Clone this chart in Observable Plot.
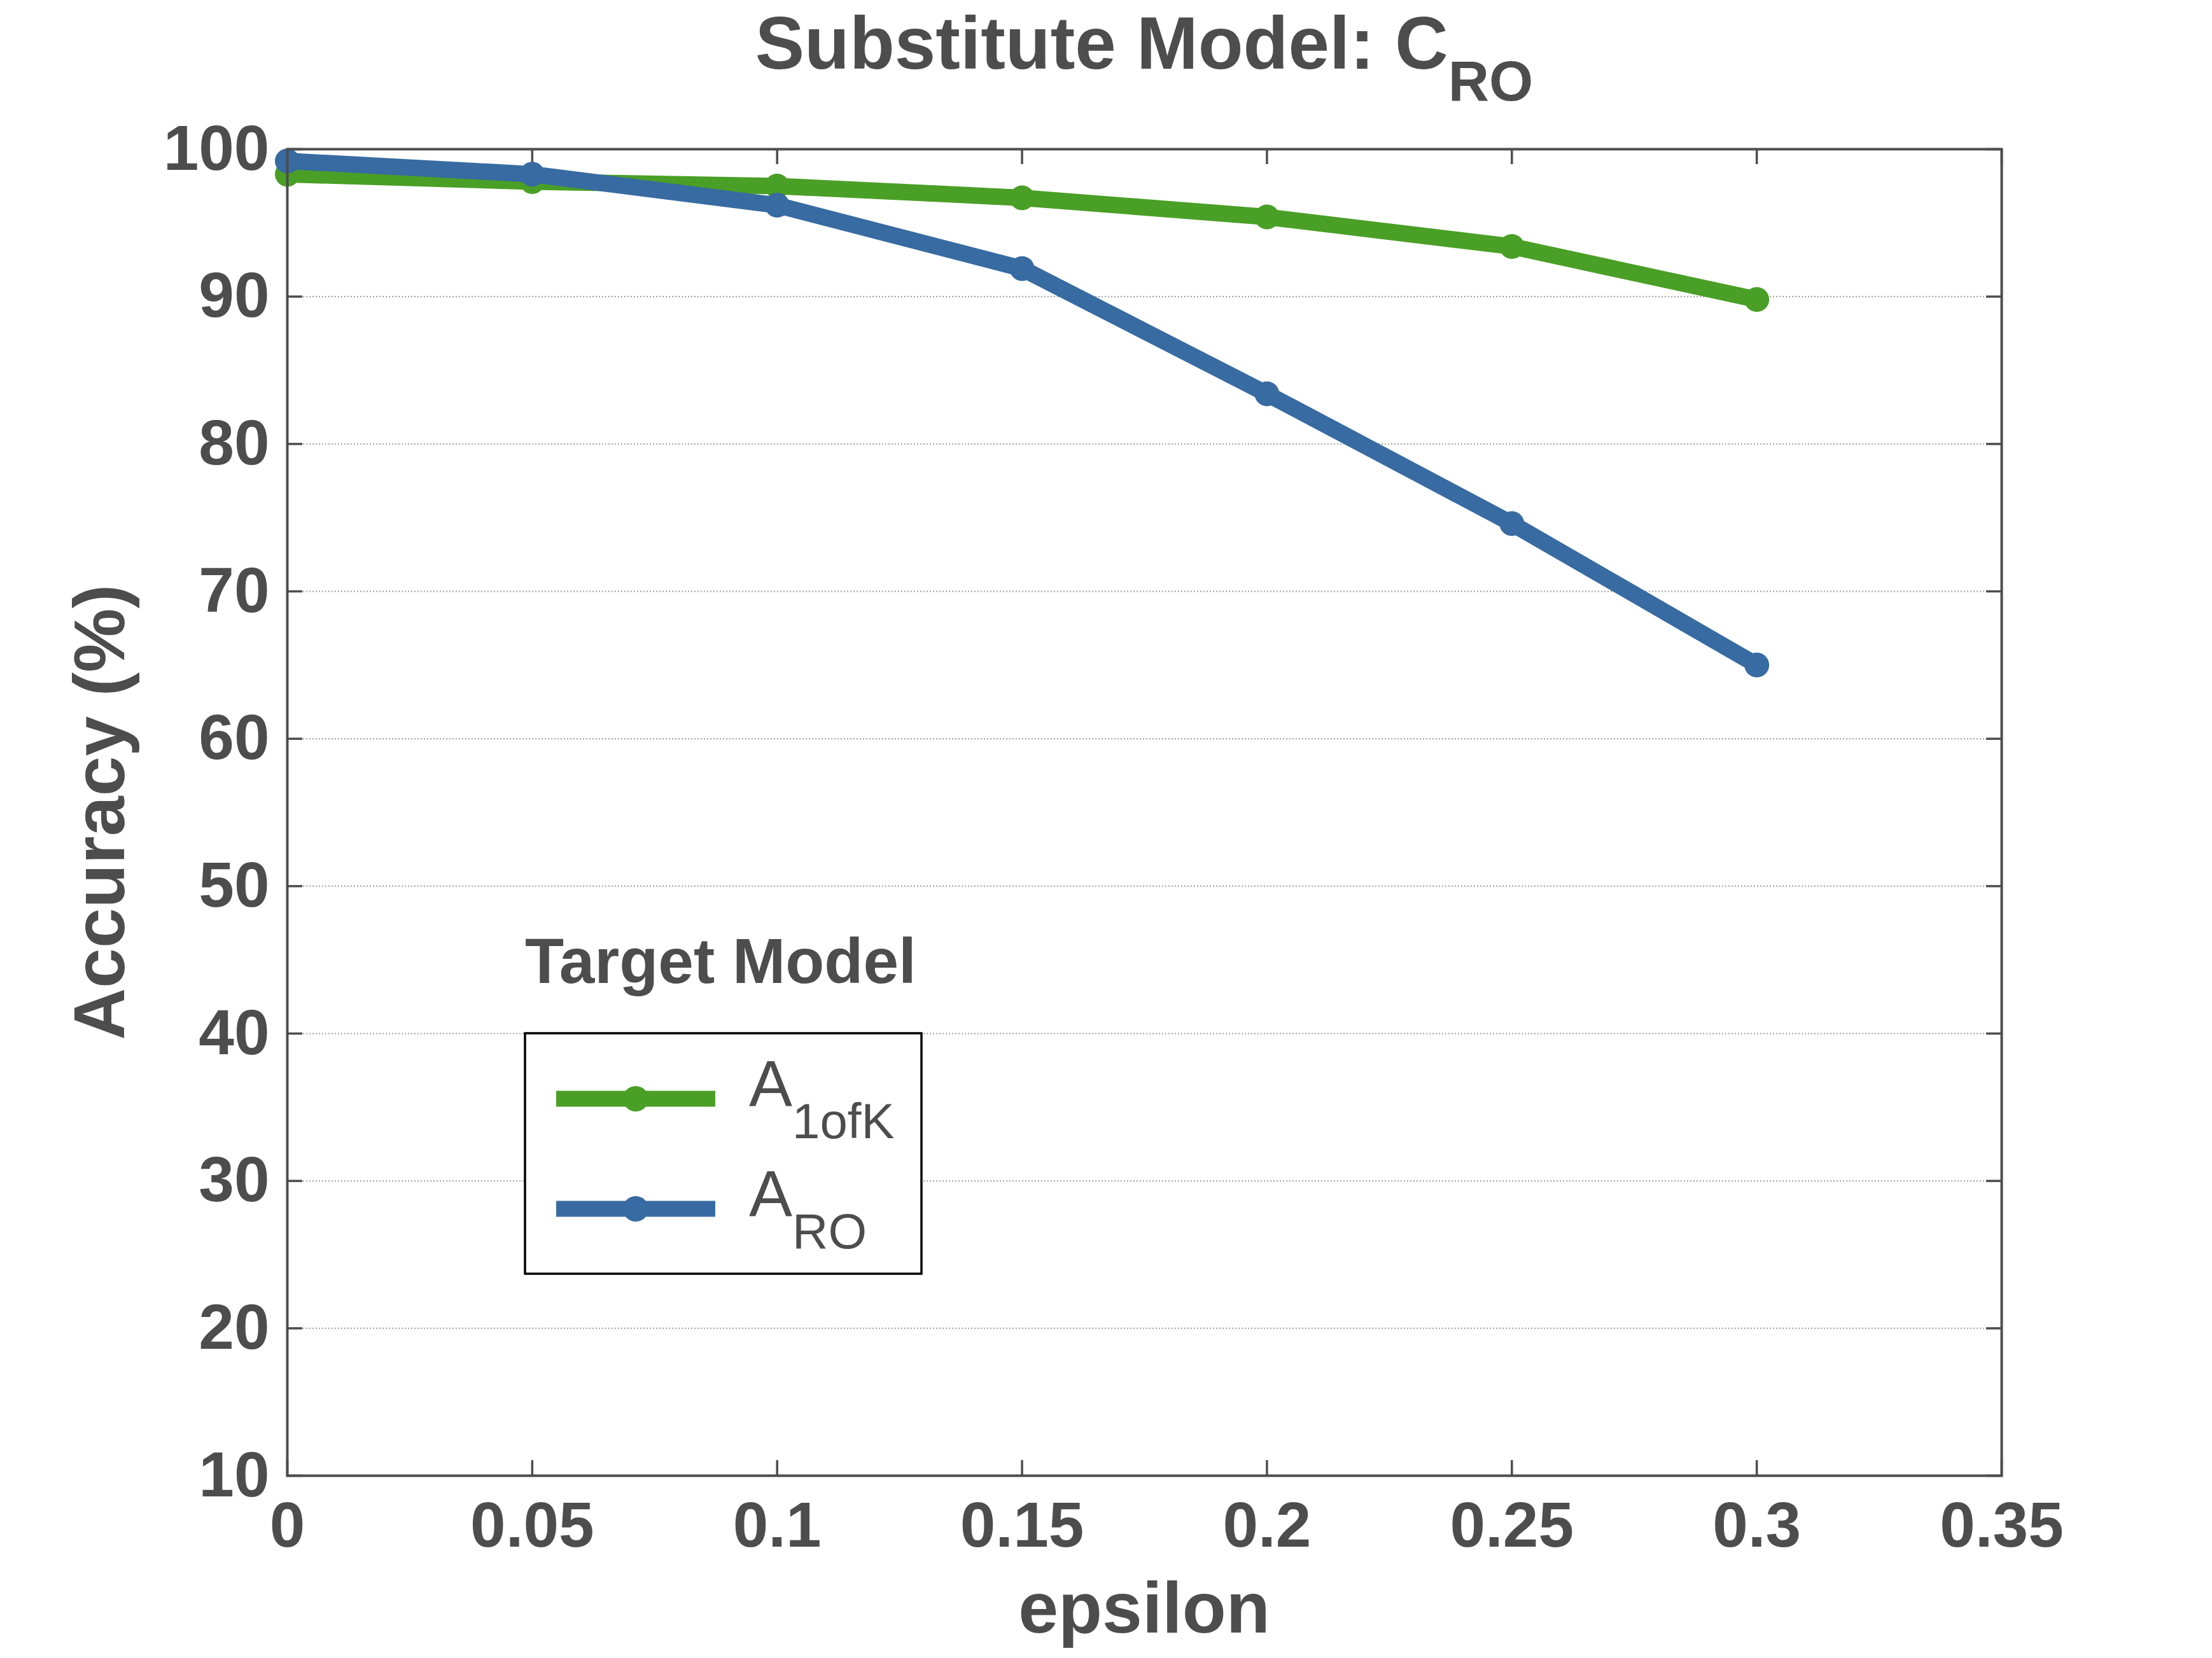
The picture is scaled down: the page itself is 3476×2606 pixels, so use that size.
<!DOCTYPE html>
<html>
<head>
<meta charset="utf-8">
<script src="https://cdn.jsdelivr.net/npm/d3@7"></script>
<script src="https://cdn.jsdelivr.net/npm/@observablehq/plot@0.6"></script>
<style>
  html, body { margin: 0; padding: 0; background: #fff; }
  #chart svg { display: block; }
</style>
</head>
<body>
<div id="chart"></div>
<script>
// Accuracy of each target model under attacks crafted on the C_RO substitute
const epsilon = [0, 0.05, 0.1, 0.15, 0.2, 0.25, 0.3];
const accuracy1ofK = [98.3, 97.8, 97.5, 96.7, 95.4, 93.4, 89.8];
const accuracyRO = [99.2, 98.3, 96.2, 91.9, 83.4, 74.6, 65.0];
const xTicks = [0, 0.05, 0.1, 0.15, 0.2, 0.25, 0.3, 0.35];
const yTicks = [10, 20, 30, 40, 50, 60, 70, 80, 90, 100];
const seriesNames = ["1ofK", "RO"];
const seriesColors = ["#4a9f26", "#376ba1"];

const W = 3476, H = 2606;
const margin = {top: 234, right: 331, bottom: 287, left: 451};
const frameW = W - margin.left - margin.right;
const frameH = H - margin.top - margin.bottom;
const ink = "#4d4d4d";
const tickLen = 24;
const fontFamily = "'Liberation Sans', Arial, Helvetica, sans-serif";

const seriesValues = [accuracy1ofK, accuracyRO];
const rows = seriesNames.flatMap((name, i) =>
  epsilon.map((e, j) => ({series: name, epsilon: e, accuracy: seriesValues[i][j]}))
);

const seriesMarks = seriesNames.flatMap(name => {
  const data = rows.filter(d => d.series === name);
  return [
    Plot.line(data, {x: "epsilon", y: "accuracy", stroke: "series", strokeWidth: 26, strokeLinejoin: "round"}),
    Plot.dot(data, {x: "epsilon", y: "accuracy", fill: "series", r: 19.5, stroke: null})
  ];
});

const chart = Plot.plot({
  width: W,
  height: H,
  marginTop: margin.top,
  marginRight: margin.right,
  marginBottom: margin.bottom,
  marginLeft: margin.left,
  style: {fontFamily, color: ink, background: "#fff", overflow: "visible"},
  x: {domain: [0, 0.35], label: null},
  y: {domain: [10, 100], label: null},
  color: {domain: seriesNames, range: seriesColors},
  marks: [
    Plot.gridY(yTicks, {stroke: ink, strokeOpacity: 0.55, strokeWidth: 2, strokeDasharray: "2,3"}),
    // inward ticks on all four sides
    Plot.tickX(xTicks, {x: d => d, stroke: ink, strokeWidth: 3.5, insetTop: frameH - tickLen}),
    Plot.tickX(xTicks, {x: d => d, stroke: ink, strokeWidth: 3.5, insetBottom: frameH - tickLen}),
    Plot.tickY(yTicks, {y: d => d, stroke: ink, strokeWidth: 3.5, insetRight: frameW - tickLen}),
    Plot.tickY(yTicks, {y: d => d, stroke: ink, strokeWidth: 3.5, insetLeft: frameW - tickLen}),
    Plot.axisX(xTicks, {anchor: "bottom", tickSize: 0, tickPadding: 40, fontSize: 100, fontWeight: "bold", tickFormat: d => String(d), label: null}),
    Plot.axisY(yTicks, {anchor: "left", tickSize: 0, tickPadding: 28, fontSize: 100, fontWeight: "bold", tickFormat: d => String(d), label: null}),
    ...seriesMarks,
    Plot.frame({stroke: ink, strokeWidth: 4})
  ]
});

document.getElementById("chart").appendChild(chart);

const svg = d3.select(chart);
const cx = margin.left + frameW / 2;

// title with subscript
const title = svg.append("text")
  .attr("x", cx).attr("y", 108)
  .attr("text-anchor", "middle")
  .attr("fill", ink)
  .attr("font-family", fontFamily)
  .attr("font-weight", "bold")
  .attr("font-size", 116);
title.append("tspan").text("Substitute Model: C");
title.append("tspan").attr("dy", 50).attr("font-size", 89).text("RO");

// axis titles
svg.append("text")
  .attr("x", cx).attr("y", 2566)
  .attr("text-anchor", "middle")
  .attr("fill", ink)
  .attr("font-family", fontFamily)
  .attr("font-weight", "bold")
  .attr("font-size", 113)
  .text("epsilon");

svg.append("text")
  .attr("transform", `translate(195,${margin.top + frameH / 2}) rotate(-90)`)
  .attr("text-anchor", "middle")
  .attr("fill", ink)
  .attr("font-family", fontFamily)
  .attr("font-weight", "bold")
  .attr("font-size", 113)
  .text("Accuracy (%)");

// legend: heading, boxed entries with line + marker samples and subscripted labels
const legend = svg.append("g")
  .attr("font-family", fontFamily)
  .attr("text-anchor", "start");
legend.append("text")
  .attr("x", 825).attr("y", 1545)
  .attr("fill", ink)
  .attr("font-weight", "bold")
  .attr("font-size", 100)
  .text("Target Model");

legend.append("rect")
  .attr("x", 825).attr("y", 1624)
  .attr("width", 623).attr("height", 378)
  .attr("fill", "#fff")
  .attr("stroke", "#000")
  .attr("stroke-width", 3.5);

const entryY = [1727, 1900];
seriesNames.forEach((name, i) => {
  const y = entryY[i];
  const color = chart.scale("color").apply(name);
  legend.append("line")
    .attr("x1", 874).attr("x2", 1124)
    .attr("y1", y).attr("y2", y)
    .attr("stroke", color)
    .attr("stroke-width", 25);
  legend.append("circle")
    .attr("cx", 999).attr("cy", y)
    .attr("r", 20)
    .attr("fill", color);
  const label = legend.append("text")
    .attr("x", 1177).attr("y", y + 12)
    .attr("fill", ink)
    .attr("font-size", 102);
  label.append("tspan").text("A");
  label.append("tspan").attr("dy", 50).attr("font-size", 78).text(name);
});
</script>
</body>
</html>
